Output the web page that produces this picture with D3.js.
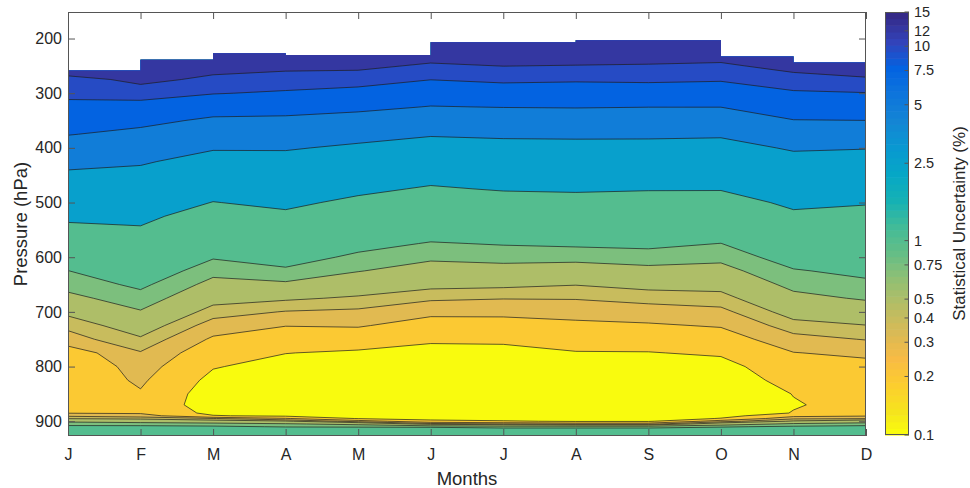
<!DOCTYPE html>
<html>
<head>
<meta charset="utf-8">
<script src="https://cdn.jsdelivr.net/npm/d3@7/dist/d3.min.js"></script>
<style>
  html, body { margin: 0; padding: 0; background: #ffffff; }
  svg { display: block; font-family: "Liberation Sans", Arial, Helvetica, sans-serif; }
</style>
</head>
<body>
<svg id="chart" width="970" height="488"></svg>
<script>
// ---- Data -------------------------------------------------------------
// Month labels along the x axis
const months = ["J", "F", "M", "A", "M", "J", "J", "A", "S", "O", "N", "D"];

// Pressure levels (hPa) of the profile rows
const pressure = [200, 225, 250, 275, 300, 325, 350, 375, 400, 425, 450, 475, 500, 525,
  550, 575, 600, 625, 650, 675, 700, 725, 750, 775, 800, 825, 850, 870, 885, 890, 895,
  900, 905, 910, 915, 920, 927];

// Highest valid pressure (hPa) of each monthly profile; nothing is shown above it
const dataTop = [258.6, 239, 227, 227, 230, 207, 207, 203, 203, 203, 233, 244];

// Statistical uncertainty (%) of each monthly profile, one value per pressure level
const uJan = [null, null, null, 11.06, 10.5, 9.45, 8.47, 7.59, 6.5, 5.54, 4.69, 3.93, 3.29, 2.76,
  2.22, 1.70, 1.30, 0.995, 0.838, 0.686, 0.536, 0.426, 0.36, 0.251, 0.215, 0.228, 0.228, 0.24,
  0.295, 0.38, 0.49, 0.70, 0.88, 1.1, 1.4, 1.8, 2.6];
const uFeb = [null, null, 14.0, 12.7, 10.83, 9.29, 8.07, 6.99, 6.04, 5.22, 4.49, 3.84, 3.29, 2.81,
  2.38, 1.95, 1.60, 1.31, 1.074, 0.886, 0.731, 0.594, 0.481, 0.392, 0.352, 0.318, 0.29, 0.285,
  0.288, 0.35, 0.47, 0.64, 0.88, 1.08, 1.35, 1.75, 2.6];
const uMar = [null, null, 13.05, 11.48, 10.1, 8.51, 7.16, 6.08, 5.17, 4.31, 3.58, 2.98, 2.47, 1.98,
  1.60, 1.28, 1.03, 0.827, 0.674, 0.557, 0.449, 0.354, 0.286, 0.242, 0.205, 0.18, 0.164, 0.158,
  0.18, 0.205, 0.405, 0.58, 0.85, 1.05, 1.3, 1.65, 2.2];
const uApr = [null, null, 12.6, 11.11, 9.75, 8.32, 7.10, 6.05, 5.16, 4.41, 3.77, 3.22, 2.75, 2.29,
  1.84, 1.48, 1.186, 0.939, 0.706, 0.522, 0.394, 0.303, 0.247, 0.2016, 0.175, 0.16, 0.152, 0.15,
  0.165, 0.185, 0.31, 0.52, 0.78, 0.98, 1.22, 1.5, 1.95];
const uMay = [null, null, 12.58, 10.86, 9.33, 7.98, 6.74, 5.63, 4.71, 3.94, 3.30, 2.76, 2.26, 1.80,
  1.44, 1.146, 0.925, 0.76, 0.606, 0.481, 0.38, 0.309, 0.243, 0.19, 0.165, 0.15, 0.142, 0.14,
  0.15, 0.16, 0.195, 0.36, 0.68, 0.97, 1.18, 1.45, 1.85];
const uJun = [null, 13.5, 11.64, 10.03, 8.65, 7.43, 6.2, 5.16, 4.27, 3.52, 2.91, 2.38, 1.91, 1.52,
  1.215, 0.973, 0.791, 0.654, 0.544, 0.419, 0.324, 0.26, 0.21, 0.18, 0.155, 0.14, 0.132, 0.13,
  0.135, 0.145, 0.17, 0.23, 0.45, 0.95, 1.2, 1.42, 1.8];
const uJul = [null, 13.9, 12.04, 10.4, 8.89, 7.56, 6.33, 5.30, 4.43, 3.70, 3.10, 2.59, 2.07, 1.64,
  1.30, 1.026, 0.827, 0.665, 0.532, 0.405, 0.324, 0.263, 0.213, 0.18, 0.158, 0.142, 0.133, 0.13,
  0.133, 0.14, 0.16, 0.21, 0.41, 0.88, 1.15, 1.4, 1.8];
const uAug = [null, 13.8, 11.91, 10.26, 8.84, 7.61, 6.38, 5.33, 4.47, 3.75, 3.15, 2.64, 2.14, 1.69,
  1.345, 1.067, 0.822, 0.64, 0.505, 0.407, 0.336, 0.279, 0.234, 0.196, 0.168, 0.148, 0.138, 0.134,
  0.135, 0.14, 0.155, 0.19, 0.37, 0.88, 1.15, 1.4, 1.75];
const uSep = [null, 13.46, 11.81, 10.36, 8.87, 7.53, 6.33, 5.32, 4.45, 3.71, 3.09, 2.57, 2.09, 1.68,
  1.36, 1.095, 0.866, 0.683, 0.547, 0.436, 0.353, 0.289, 0.238, 0.197, 0.17, 0.15, 0.14, 0.136,
  0.137, 0.142, 0.157, 0.19, 0.37, 0.88, 1.15, 1.4, 1.75];
const uOct = [null, 13.26, 11.62, 10.2, 8.77, 7.53, 6.28, 5.24, 4.38, 3.67, 3.07, 2.57, 2.04, 1.61,
  1.27, 0.995, 0.814, 0.669, 0.553, 0.455, 0.373, 0.308, 0.254, 0.21, 0.175, 0.16, 0.15, 0.148,
  0.16, 0.172, 0.205, 0.36, 0.62, 0.97, 1.2, 1.45, 1.85];
const uNov = [null, null, 12.82, 11.17, 9.74, 8.52, 7.44, 6.22, 5.21, 4.42, 3.77, 3.22, 2.75, 2.29,
  1.845, 1.484, 1.195, 0.97, 0.82, 0.684, 0.5625, 0.456, 0.365, 0.297, 0.261, 0.23, 0.202, 0.195,
  0.203, 0.27, 0.38, 0.52, 0.8, 1.05, 1.35, 1.8, 2.45];
const uDec = [null, null, 13.7, 11.67, 9.93, 8.63, 7.49, 6.17, 5.08, 4.28, 3.61, 3.05, 2.58, 2.17,
  1.833, 1.545, 1.303, 1.099, 0.924, 0.776, 0.623, 0.496, 0.4055, 0.321, 0.27, 0.235, 0.22, 0.225,
  0.26, 0.29, 0.39, 0.62, 0.86, 1.1, 1.4, 1.8, 2.6];

// Contour levels (%) shared with the colour bar, and their tick labels
const levels = [0.1, 0.2, 0.3, 0.4, 0.5, 0.75, 1, 2.5, 5, 7.5, 10, 12, 15];
const levelLabels = ["0.1", "0.2", "0.3", "0.4", "0.5", "0.75", "1", "2.5", "5", "7.5", "10", "12", "15"];

// Pressure axis ticks (hPa)
const pressureTicks = [200, 300, 400, 500, 600, 700, 800, 900];

// Parula colour map stops (dark blue -> yellow)
const parulaStops = [
  [0, "#352a87"], [4 / 63, "#3243ba"], [8 / 63, "#0363e1"], [12 / 63, "#0d75dc"],
  [16 / 63, "#1485d4"], [20 / 63, "#0998d1"], [24 / 63, "#06a7c6"], [28 / 63, "#15b1b4"],
  [32 / 63, "#42bb98"], [36 / 63, "#65be86"], [40 / 63, "#92bf73"], [44 / 63, "#b7bd64"],
  [48 / 63, "#d9ba56"], [52 / 63, "#f8bb44"], [56 / 63, "#fcce2e"], [60 / 63, "#f5e41d"],
  [1, "#f9fb0e"]
];

// ---- Layout -----------------------------------------------------------
const plot = { left: 68, right: 866, top: 12, bottom: 436 };
const cb = { x: 885, w: 24, top: 12, bottom: 435 };
const textColor = "#262626";
const axisColor = "#555555";

const x = d3.scaleLinear().domain([0, months.length - 1]).range([plot.left, plot.right]);
const y = d3.scaleLinear().domain([151.5, 927]).range([plot.top, plot.bottom]);
const rowToPressure = d3.scaleLinear().domain(d3.range(pressure.length)).range(pressure);

const parula = d3.scaleLinear()
  .domain(parulaStops.map(d => d[0]))
  .range(parulaStops.map(d => d[1]))
  .interpolate(d3.interpolateRgb)
  .clamp(true);

// 64-step colour map, reversed so that low uncertainty is yellow
const NC = 64;
const logMin = Math.log10(levels[0]);
const logMax = Math.log10(levels[levels.length - 1]);
const bandColor = k => parula((NC - 1 - k) / (NC - 1));
const levelColor = v => {
  const f = (Math.log10(v) - logMin) / (logMax - logMin);
  return bandColor(Math.max(0, Math.min(NC - 1, Math.floor(f * NC + 1e-9))));
};

const svg = d3.select("#chart");
const defs = svg.append("defs");

// ---- Filled contours --------------------------------------------------
const profiles = [uJan, uFeb, uMar, uApr, uMay, uJun, uJul, uAug, uSep, uOct, uNov, uDec];
const nx = profiles.length, ny = pressure.length;
const capValue = levels[levels.length - 1]; // cells above the data top, hidden by the clip
const field = new Array(nx * ny);
for (let r = 0; r < ny; r++) {
  for (let c = 0; c < nx; c++) {
    const v = profiles[c][r];
    field[r * nx + c] = Math.log10(v == null ? capValue : v);
  }
}

const thresholds = levels.slice(0, -1).map(v => Math.log10(v));
const bands = d3.contours().size([nx, ny]).thresholds(thresholds)(field);

// grid coordinates -> pixels (grid values sit at cell centres)
const gridToScreen = d3.geoTransform({
  point(gx, gy) {
    const mi = Math.max(0, Math.min(nx - 1, gx - 0.5));
    const ri = Math.max(0, Math.min(ny - 1, gy - 0.5));
    this.stream.point(x(mi), y(rowToPressure(ri)));
  }
});
const contourPath = d3.geoPath(gridToScreen);

// valid-data region: a step outline following the top of each monthly segment
const segmentTop = dataTop.map((p, i) =>
  i < dataTop.length - 1 ? Math.max(p, dataTop[i + 1]) : Math.max(p, dataTop[i - 1]));
const validArea = d3.area()
  .x((d, i) => x(i))
  .y0(plot.bottom)
  .y1(d => y(d))
  .curve(d3.curveStepAfter);
defs.append("clipPath").attr("id", "validData")
  .append("path").attr("d", validArea(segmentTop));

const gFill = svg.append("g").attr("clip-path", "url(#validData)");
gFill.selectAll("path.band")
  .data(bands)
  .join("path")
  .attr("class", "band")
  .attr("d", contourPath)
  .attr("fill", d => levelColor(Math.pow(10, d.value)))
  .attr("stroke", "#1e1e1e")
  .attr("stroke-width", 0.7)
  .attr("stroke-linejoin", "round");

// ---- Axes -------------------------------------------------------------
function styleAxis(g, size) {
  g.select(".domain").remove();
  g.selectAll(".tick line").attr("stroke", axisColor).attr("stroke-width", 1);
  g.selectAll(".tick text")
    .attr("fill", textColor)
    .style("font-size", size + "px")
    .style("font-family", "'Liberation Sans', Arial, Helvetica, sans-serif");
}

svg.append("g")
  .attr("transform", `translate(${plot.left},0)`)
  .call(d3.axisLeft(y).tickValues(pressureTicks).tickSize(-7).tickPadding(6))
  .call(g => styleAxis(g, 16));

svg.append("g")
  .attr("transform", `translate(${plot.right},0)`)
  .call(d3.axisRight(y).tickValues(pressureTicks).tickSize(-7).tickFormat(""))
  .call(g => styleAxis(g, 16));

svg.append("g")
  .attr("transform", `translate(0,${plot.bottom})`)
  .call(d3.axisBottom(x).tickValues(d3.range(months.length)).tickFormat(i => months[i])
    .tickSize(-7).tickPadding(13))
  .call(g => styleAxis(g, 16));

svg.append("g")
  .attr("transform", `translate(0,${plot.top})`)
  .call(d3.axisTop(x).tickValues(d3.range(months.length)).tickSize(-7).tickFormat(""))
  .call(g => styleAxis(g, 16));

svg.append("rect")
  .attr("x", plot.left + 0.5).attr("y", plot.top + 0.5)
  .attr("width", plot.right - plot.left - 1).attr("height", plot.bottom - plot.top - 1)
  .attr("fill", "none").attr("stroke", axisColor).attr("stroke-width", 1);

svg.append("text")
  .attr("x", (plot.left + plot.right) / 2).attr("y", 485)
  .attr("text-anchor", "middle").attr("fill", textColor)
  .style("font-size", "18.5px")
  .text("Months");

svg.append("text")
  .attr("transform", `translate(27,${(plot.top + plot.bottom) / 2}) rotate(-90)`)
  .attr("text-anchor", "middle").attr("fill", textColor)
  .style("font-size", "18.5px")
  .text("Pressure (hPa)");

// ---- Colour bar -------------------------------------------------------
const cbScale = d3.scaleLog().domain([levels[0], levels[levels.length - 1]]).range([cb.bottom, cb.top]);
const cbH = cb.bottom - cb.top;
const gCb = svg.append("g");
gCb.selectAll("rect.step")
  .data(d3.range(NC))
  .join("rect")
  .attr("class", "step")
  .attr("x", cb.x)
  .attr("y", k => cb.bottom - (k + 1) / NC * cbH)
  .attr("width", cb.w)
  .attr("height", cbH / NC + 0.6)
  .attr("fill", k => bandColor(k));

gCb.append("rect")
  .attr("x", cb.x + 0.5).attr("y", cb.top + 0.5)
  .attr("width", cb.w - 1).attr("height", cbH - 1)
  .attr("fill", "none").attr("stroke", axisColor).attr("stroke-width", 1);

const cbTicks = gCb.selectAll("g.cbtick")
  .data(levels)
  .join("g")
  .attr("class", "cbtick")
  .attr("transform", d => `translate(0,${cbScale(d)})`);
cbTicks.append("line")
  .attr("x1", cb.x + cb.w - 4.5).attr("x2", cb.x + cb.w)
  .attr("stroke", axisColor).attr("stroke-width", 1);
cbTicks.append("text")
  .attr("x", cb.x + cb.w + 5)
  .attr("dy", "0.34em")
  .attr("fill", textColor)
  .style("font-size", "14.5px")
  .text((d, i) => levelLabels[i]);

svg.append("text")
  .attr("transform", `translate(965,${(cb.top + cb.bottom) / 2}) rotate(-90)`)
  .attr("text-anchor", "middle").attr("fill", textColor)
  .style("font-size", "17px")
  .text("Statistical Uncertainty (%)");
</script>
</body>
</html>
